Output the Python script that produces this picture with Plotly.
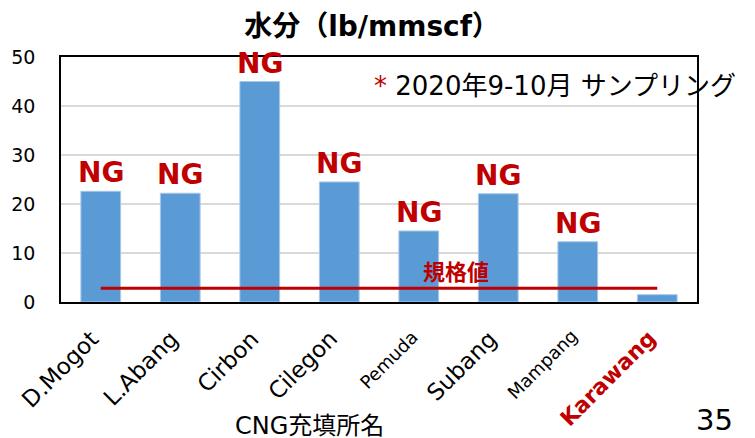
import plotly.graph_objects as go

# Water content measured at each CNG filling station (lb/mmscf)
stations = ["D.Mogot", "L.Abang", "Cirbon", "Cilegon", "Pemuda", "Subang", "Mampang", "Karawang"]
water = [22.6, 22.2, 45.0, 24.5, 14.5, 22.1, 12.3, 1.5]
judgement = ["NG", "NG", "NG", "NG", "NG", "NG", "NG", ""]
spec_limit = 2.8
y_ticks = [0, 10, 20, 30, 40, 50]

RED = "#C00000"
BLUE = "#5B9BD5"
FONT = "DejaVu Sans, Noto Sans CJK JP, sans-serif"

small_names = {"Pemuda", "Mampang"}

fig = go.Figure()

fig.add_trace(go.Bar(
    x=stations, y=water,
    marker=dict(color=BLUE, line=dict(color="#A8C8EA", width=1)),
    width=0.5,
    showlegend=False,
    hoverinfo="x+y",
))

# Specification limit line across the stations
fig.add_trace(go.Scatter(
    x=[stations[0], stations[-1]], y=[spec_limit, spec_limit],
    mode="lines", line=dict(color=RED, width=3),
    showlegend=False, cliponaxis=False,
))

annotations = []
for name, v, j in zip(stations, water, judgement):
    if j:
        annotations.append(dict(
            x=name, y=v, xref="x", yref="y", text=f"<b>{j}</b>",
            showarrow=False, yanchor="bottom", yshift=0,
            font=dict(family=FONT, size=28, color=RED),
        ))

# Rotated station names under the axis (passing station in bold red)
for name, j in zip(stations, judgement):
    if not j:
        text, size, color = f"<b>{name}</b>", 22, RED
    elif name in small_names:
        text, size, color = name, 18, "black"
    else:
        text, size, color = name, 23, "black"
    annotations.append(dict(
        x=name, y=0, xref="x", yref="y", text=text, textangle=-45,
        showarrow=False, xanchor="right", yanchor="top",
        xshift=6, yshift=-21,
        font=dict(family=FONT, size=size, color=color),
    ))

annotations += [
    dict(x=4.47, y=spec_limit, xref="x", yref="y", text="<b>規格値</b>",
         showarrow=False, yanchor="bottom", yshift=1,
         font=dict(family=FONT, size=22, color=RED)),
    dict(x=372, y=86, xref="paper", yref="paper", text=f"<span style='color:{RED}'>*</span> 2020年9-10月 サンプリング",
         showarrow=False, xanchor="left", yanchor="middle",
         font=dict(family=FONT, size=26, color="black")),
    dict(x=309, y=426, xref="paper", yref="paper", text="CNG充填所名",
         showarrow=False, xanchor="center", yanchor="middle",
         font=dict(family=FONT, size=24, color="black")),
    dict(x=714, y=420, xref="paper", yref="paper", text="35",
         showarrow=False, xanchor="center", yanchor="middle",
         font=dict(family=FONT, size=29, color="black")),
]

# convert pixel-based paper positions to paper fractions
W, H = 755, 438
ML, MR, MT, MB = 61, 58, 57, 136
pw, ph = W - ML - MR, H - MT - MB
for a in annotations:
    if a.get("xref") == "paper":
        a["x"] = (a["x"] - ML) / pw
        a["y"] = (H - MB - a["y"]) / ph

fig.update_layout(
    width=W, height=H,
    margin=dict(l=ML, r=MR, t=MT, b=MB, pad=0, autoexpand=False),
    paper_bgcolor="white", plot_bgcolor="white",
    font=dict(family=FONT, size=18, color="black"),
    title=dict(text="<b>水分（lb/mmscf）</b>", x=372 / W, xanchor="center",
               y=1 - 26 / H, yanchor="middle",
               font=dict(family=FONT, size=28, color="black")),
    xaxis=dict(
        type="category", range=[-0.5, len(stations) - 0.5], showticklabels=False,
        showline=True, linecolor="black", linewidth=1.5, mirror=True,
        ticks="", showgrid=False, automargin=False,
    ),
    yaxis=dict(
        range=[0, 50], tickvals=y_ticks,
        tickfont=dict(family=FONT, size=19, color="black"),
        showline=True, linecolor="black", linewidth=1.5, mirror=True,
        showgrid=True, gridcolor="#D9D9D9", gridwidth=1.5,
        ticks="", ticklabelstandoff=20, zeroline=False, automargin=False,
    ),
    annotations=annotations,
    bargap=0.5,
)

fig.write_html("out.html")
